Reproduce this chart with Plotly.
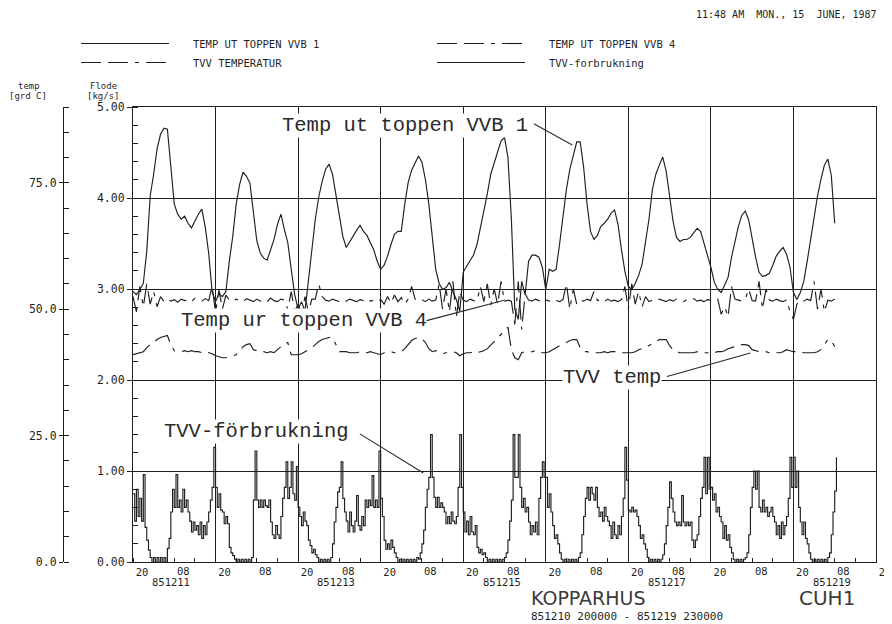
import plotly.graph_objects as go

# ---------------- data ----------------
# time axis: hours since 851210 20:00
day_labels = ["851211", "851213", "851215", "851217", "851219"]
day_label_hours = [12, 60, 108, 156, 204]
grid_hours = [0, 24, 48, 72, 96, 120, 144, 168, 192, 216]
grid_text = ["20"] * 10
mid_hours = [12, 36, 60, 84, 108, 132, 156, 180, 204]
mid_text = ["08"] * 9

# hourly temperatures [grd C]
vvb1_temp = [
    53.5, 52.9, 53.9, 55.1, 61.5, 72.4, 76.7, 81.7, 84.6, 85.8,
    85.6, 78.3, 70.8, 68.8, 67.8, 68.4, 67.0, 66.1, 67.6, 68.8,
    69.8, 66.3, 61.1, 53.5, 51.5, 53.1, 52.5, 53.5, 59.5, 64.4,
    70.8, 74.7, 77.1, 76.3, 74.9, 68.8, 63.5, 61.1, 60.1, 59.7,
    61.8, 63.8, 66.8, 68.8, 65.8, 63.2, 57.9, 52.9, 50.0, 51.5,
    49.6, 55.9, 61.8, 67.8, 72.2, 75.3, 77.7, 78.7, 76.7, 72.8,
    68.2, 64.4, 62.2, 63.4, 64.6, 65.6, 66.6, 65.4, 64.6, 63.2,
    61.7, 59.5, 57.9, 58.7, 60.5, 62.8, 64.8, 65.4, 65.4, 70.8,
    75.1, 77.5, 78.9, 80.3, 79.1, 75.7, 70.8, 63.8, 57.9, 55.1,
    53.9, 54.3, 55.3, 53.5, 51.9, 49.6, 57.3, 58.5, 59.7, 60.7,
    62.8, 66.2, 69.0, 72.8, 76.7, 78.9, 81.3, 83.3, 84.0, 80.1,
    67.8, 50.0, 48.0, 55.5, 52.9, 59.5, 60.7, 60.7, 60.3, 58.3,
    53.9, 57.9, 57.5, 57.9, 62.8, 68.2, 73.7, 77.7, 80.7, 83.1,
    83.1, 78.1, 70.8, 65.4, 63.8, 64.6, 66.4, 67.0, 67.8, 69.0,
    69.6, 66.8, 61.8, 57.5, 54.5, 53.9, 55.1, 56.7, 58.9, 63.2,
    67.8, 73.7, 76.7, 78.5, 80.1, 77.3, 72.4, 67.4, 64.2, 63.4,
    63.8, 63.8, 64.2, 65.0, 66.0, 65.4, 63.2, 60.7, 58.3, 55.3,
    53.9, 53.3, 54.7, 56.3, 60.3, 63.4, 66.4, 68.6, 69.4, 67.6,
    63.8, 60.3, 57.3, 56.5, 56.7, 57.1, 58.7, 60.5, 61.5, 62.2,
    60.9, 58.3, 53.3, 51.9, 53.3, 55.5, 59.5, 63.8, 68.2, 72.4,
    75.7, 78.5, 79.7, 76.5, 67.0,
]

vvb4_temp = [
    52.5, 49.5, 54.5, 50.5, 55.0, 51.0, 53.5, 50.5, 52.5,
    51.5, 52.0, 51.6, 51.9, 51.4, 52.0, 51.7, 51.9, 51.5, 52.2, 51.8, 51.6, 52.1, 51.7,
    54.5, 49.3, 53.8, 50.0, 52.8,
    51.8, 51.5, 52.0, 51.7, 51.4, 52.1, 51.8, 51.5, 52.0, 51.6, 51.9, 51.5, 52.2, 51.7, 51.5, 52.0, 51.8,
    50.0, 53.5, 49.5, 51.0, 48.8, 52.5, 49.5, 52.0,
    52.0, 55.0, 52.5,
    51.8, 51.6, 52.0, 51.7, 51.5, 51.9, 51.6, 52.0, 51.8, 51.5, 51.9, 51.7, 52.1, 51.6, 51.8, 51.5, 51.9,
    51.0, 52.5, 51.2, 52.8, 51.5, 52.3, 51.0, 52.0,
    54.5, 52.0,
    51.7, 51.9, 51.5, 52.0, 51.6, 51.8,
    55.0, 50.0, 54.0, 49.5, 55.5, 48.5, 53.5,
    51.8, 51.5, 52.0, 51.7, 51.6,
    54.5, 51.5, 55.0, 50.8, 54.0, 51.0, 55.5, 51.5,
    51.8, 51.6,
    47.0, 55.5, 46.0, 53.0,
    51.8, 51.6, 52.0, 51.7, 51.5, 51.9, 51.6, 52.0, 51.8, 51.5, 51.9,
    55.0, 50.0, 54.0, 51.0,
    51.8, 51.6, 52.0, 51.7,
    53.5,
    51.7, 51.9, 51.5, 52.0, 51.6, 51.8, 51.5, 51.9,
    54.5, 50.0, 55.0, 51.0, 53.5, 50.5, 52.5, 51.5,
    51.8, 51.6, 52.0, 51.7, 51.5, 51.9, 51.6, 52.0, 51.8, 51.5,
    51.9, 51.7, 52.1, 51.6, 51.8, 51.5, 51.9, 51.7, 51.6, 52.0,
    49.0, 50.5, 48.5,
    54.5, 52.0,
    51.8, 51.6, 52.0,
    54.0,
    51.7, 51.6,
    55.5, 50.0, 54.0,
    51.8, 51.6, 52.0, 51.7, 51.5, 51.9,
    49.5, 48.0, 51.0,
    51.8, 51.6, 52.0, 51.7,
    55.5, 50.0, 54.0,
    49.5,
    51.8, 51.6, 52.0,
]

tvv_temp = [
    41.0, 41.2, 41.4, 41.6, 42.4, 43.0, 43.4, 44.0, 44.4, 44.6,
    44.8, 43.0, 41.8, 41.6, 41.6, 41.8, 41.6, 41.8, 41.6, 41.6,
    41.4, 41.6, 41.4, 41.2, 40.8, 40.6, 40.4, 40.4, 40.6, 40.8,
    41.0, 41.8, 42.6, 43.0, 43.2, 42.0, 41.8, 41.6, 41.6, 41.4,
    41.6, 41.4, 42.0, 42.6, 43.2, 43.4, 41.0, 41.0, 41.0, 41.2,
    41.6, 42.0, 42.4, 43.0, 43.6, 44.0, 44.2, 44.4, 44.4, 43.0,
    41.6, 41.6, 41.6, 41.4, 41.4, 41.4, 41.6, 41.4, 41.4, 41.6,
    41.4, 41.2, 41.0, 41.4, 41.4, 41.6, 41.4, 41.4, 41.6, 42.2,
    43.0, 43.8, 44.2, 44.4, 44.2, 43.4, 42.2, 41.6, 41.8, 41.6,
    41.2, 41.4, 41.4, 41.6, 41.4, 40.8, 41.2, 41.4, 41.4, 41.6,
    41.4, 41.6, 41.8, 42.2, 42.8, 43.6, 44.4, 45.0, 46.0, 46.4,
    42.0, 40.4, 40.0, 41.4, 41.6, 41.4, 41.6, 41.8, 41.6, 41.4,
    41.4, 41.6, 42.0, 42.4, 42.8, 43.2, 43.4, 43.8, 44.0, 44.0,
    42.4, 41.6, 41.6, 41.4, 41.4, 41.4, 41.4, 41.6, 41.4, 41.6,
    41.6, 41.4, 41.4, 41.4, 41.4, 41.4, 41.6, 42.0, 42.2, 42.4,
    42.8, 43.2, 43.6, 44.0, 44.0, 44.0, 42.8, 42.0, 41.6, 41.4,
    41.4, 41.4, 41.4, 41.4, 41.6, 41.4, 41.4, 41.4, 41.2, 41.4,
    41.6, 41.6, 41.8, 42.2, 42.4, 42.6, 42.8, 43.0, 43.0, 42.8,
    42.0, 41.8, 41.6, 41.6, 41.6, 41.4, 41.4, 41.4, 41.4, 41.6,
    42.0, 41.8, 41.6, 41.6, 41.6, 41.4, 41.4, 41.4, 41.4, 41.6,
    42.0, 43.0, 44.0, 43.8, 42.6,
]

# half-hourly hot-water flow [kg/s], one list per day (starting 20:00)
flow_day0 = [0.75, 0.45, 0.8, 0.5, 0.7, 0.45, 0.96, 0.38, 0.24, 0.13,
             0.05, 0.0, 0.05, 0.0, 0.05, 0.0, 0.05, 0.0, 0.05, 0.0,
             0.15, 0.26, 0.55, 0.8, 0.6, 0.96, 0.6, 0.68, 0.55, 0.8,
             0.6, 0.68, 0.55, 0.45, 0.33, 0.44, 0.35, 0.4, 0.3, 0.44,
             0.26, 0.4, 0.3, 0.44, 0.55, 0.68, 0.82, 1.26]
flow_day1 = [0.82, 0.6, 0.75, 0.57, 0.55, 0.42, 0.5, 0.42, 0.16, 0.1,
             0.07, 0.03, 0.0, 0.03, 0.0, 0.03, 0.0, 0.03, 0.0, 0.03,
             0.0, 0.05, 0.68, 1.22, 0.68, 0.6, 0.68, 0.6, 0.68, 0.62,
             0.6, 0.68, 0.44, 0.3, 0.26, 0.4, 0.3, 0.26, 0.5, 0.7,
             0.82, 1.1, 0.7, 0.82, 1.1, 0.75, 0.68, 1.05]
flow_day2 = [0.6, 0.5, 0.4, 0.55, 0.45, 0.4, 0.24, 0.18, 0.1, 0.14,
             0.08, 0.05, 0.0, 0.03, 0.0, 0.03, 0.0, 0.03, 0.0, 0.05,
             0.2, 0.44, 0.6, 0.77, 0.82, 1.1, 0.7, 0.55, 0.45, 0.33,
             0.55, 0.4, 0.33, 0.45, 0.73, 0.4, 0.35, 0.5, 0.4, 0.68,
             0.6, 0.68, 0.62, 0.95, 0.6, 0.68, 0.6, 1.22]
flow_day3 = [0.7, 0.5, 0.24, 0.14, 0.2, 0.14, 0.24, 0.16, 0.1, 0.05,
             0.0, 0.03, 0.0, 0.03, 0.0, 0.03, 0.0, 0.03, 0.0, 0.03,
             0.0, 0.05, 0.03, 0.1, 0.2, 0.35, 0.6, 0.8, 0.93, 1.4,
             0.93, 0.71, 0.6, 0.71, 0.6, 0.65, 0.6, 0.55, 0.42, 0.5,
             0.42, 0.55, 0.45, 0.42, 0.5, 0.82, 1.4, 0.82]
flow_day4 = [0.55, 0.33, 0.45, 0.3, 0.5, 0.33, 0.3, 0.4, 0.16, 0.1,
             0.14, 0.08, 0.1, 0.05, 0.0, 0.03, 0.0, 0.03, 0.0, 0.03,
             0.0, 0.03, 0.0, 0.03, 0.05, 0.1, 0.24, 0.45, 0.68, 1.4,
             0.93, 0.93, 1.4, 0.82, 0.6, 0.7, 0.55, 0.6, 0.44, 0.3,
             0.4, 0.33, 0.44, 0.3, 0.7, 0.93, 1.1, 0.93]
flow_day5 = [0.93, 0.6, 0.75, 0.55, 0.4, 0.26, 0.3, 0.2, 0.1, 0.03,
             0.0, 0.03, 0.0, 0.03, 0.0, 0.03, 0.0, 0.03, 0.0, 0.05,
             0.1, 0.3, 0.5, 0.7, 0.82, 0.68, 0.82, 0.75, 0.68, 0.82,
             0.6, 0.5, 0.55, 0.45, 0.6, 0.5, 0.45, 0.4, 0.26, 0.44,
             0.3, 0.26, 0.4, 0.3, 0.5, 0.7, 1.26, 0.9]
flow_day6 = [0.57, 0.55, 0.6, 0.55, 0.57, 0.5, 0.4, 0.26, 0.3, 0.2,
             0.14, 0.05, 0.0, 0.03, 0.0, 0.03, 0.0, 0.03, 0.0, 0.03,
             0.08, 0.2, 0.4, 0.6, 0.88, 0.7, 0.55, 0.44, 0.4, 0.44,
             0.4, 0.73, 0.44, 0.4, 0.44, 0.4, 0.44, 0.24, 0.16, 0.24,
             0.3, 0.5, 0.7, 0.82, 1.15, 0.75, 1.15, 0.8]
flow_day7 = [0.82, 0.68, 0.75, 0.55, 0.6, 0.5, 0.44, 0.26, 0.4, 0.24,
             0.3, 0.16, 0.1, 0.03, 0.0, 0.03, 0.0, 0.03, 0.0, 0.03,
             0.05, 0.1, 0.3, 0.6, 0.82, 1.0, 0.8, 1.0, 0.6, 0.55,
             0.68, 0.55, 0.6, 0.5, 0.55, 0.6, 0.5, 0.44, 0.3, 0.4,
             0.26, 0.44, 0.3, 0.4, 0.5, 0.7, 1.15, 0.82]
flow_day8 = [1.15, 0.82, 1.0, 0.6, 0.44, 0.3, 0.44, 0.26, 0.2, 0.1,
             0.03, 0.0, 0.03, 0.0, 0.03, 0.0, 0.03, 0.0, 0.03, 0.0,
             0.05, 0.1, 0.3, 0.55, 0.78, 1.15]

# ---------------- build ----------------
hours = list(range(len(vvb1_temp)))
tvv_flow = (flow_day0 + flow_day1 + flow_day2 + flow_day3 + flow_day4
            + flow_day5 + flow_day6 + flow_day7 + flow_day8)
flow_hours = [i * 0.5 for i in range(len(tvv_flow))]

INK = "#1f1f1f"
MONO = "DejaVu Sans Mono"
TYPE = "Liberation Mono"
SANS = "DejaVu Sans"
DASH = "20px,7px,20px,7px,4px,7px"

# the page shows the figure with an 8 px body margin; positions below are
# given in page pixels and converted to paper fractions
OFF = 8
W, H = 892, 624
ML, MR, MT, MB = 0, 24, 99, 70
PW = W - ML - MR
PH = H - MT - MB


def px(xpage):
    return (xpage - OFF - ML) / PW


def py(ypage):
    return (H - MB - (ypage - OFF)) / PH


NB = "\u00a0\u00a0\u00a0"
fig = go.Figure()
fig.add_trace(go.Scatter(x=hours, y=vvb1_temp, yaxis="y2", mode="lines",
                         name=NB + "TEMP UT TOPPEN VVB 1",
                         line=dict(color=INK, width=1.15)))
fig.add_trace(go.Scatter(x=hours, y=vvb4_temp, yaxis="y2", mode="lines",
                         name=NB + "TEMP UT TOPPEN VVB 4",
                         line=dict(color=INK, width=1.15, dash=DASH)))
fig.add_trace(go.Scatter(x=hours, y=tvv_temp, yaxis="y2", mode="lines",
                         name=NB + "TVV TEMPERATUR",
                         line=dict(color=INK, width=1.15, dash=DASH)))
fig.add_trace(go.Scatter(x=flow_hours, y=tvv_flow, mode="lines",
                         name=NB + "TVV-forbrukning",
                         line=dict(color=INK, width=1.15, shape="hv")))

tickfont = dict(family=MONO, size=11.5, color=INK)
xfont = dict(family=MONO, size=10.5, color=INK)

fig.update_layout(
    template="none",
    width=W, height=H,
    margin=dict(l=ML, r=MR, t=MT, b=MB, pad=0),
    paper_bgcolor="white", plot_bgcolor="white",
    hovermode=False,
    showlegend=True,
    legend=dict(orientation="h", x=px(76), y=py(29), xanchor="left", yanchor="top",
                entrywidth=253, entrywidthmode="pixels", itemwidth=88,
                font=dict(family=MONO, size=10.5, color=INK),
                bgcolor="rgba(0,0,0,0)", traceorder="normal"),
    xaxis=dict(domain=[px(133), 1], range=[0, 216], tickmode="array",
               tickvals=grid_hours, ticktext=grid_text, ticks="",
               showgrid=True, gridcolor=INK, gridwidth=1,
               showline=True, mirror=True, linecolor=INK, linewidth=1.2,
               zeroline=False, tickfont=xfont, ticklabelshift=9,
               automargin=False,
               minor=dict(tickmode="linear", tick0=0, dtick=6, ticks="inside",
                          ticklen=4, tickcolor=INK, showgrid=False)),
    yaxis=dict(domain=[0, 1], range=[0, 5], tickmode="array",
               tickvals=[0, 1, 2, 3, 4, 5],
               ticktext=["0.00", "1.00", "2.00", "3.00", "4.00", "5.00"],
               ticks="outside", ticklen=5, tickcolor=INK,
               showgrid=True, gridcolor=INK, gridwidth=1,
               showline=True, mirror=True, linecolor=INK, linewidth=1.2,
               zeroline=False, tickfont=tickfont, automargin=False,
               minor=dict(tickmode="linear", tick0=0, dtick=0.2, ticks="inside",
                          ticklen=5, tickcolor=INK, showgrid=False)),
    yaxis2=dict(overlaying="y", anchor="free", position=px(63), side="left",
                range=[0, 90], tickmode="array", tickvals=[0, 25, 50, 75],
                ticktext=["0.0", "25.0", "50.0", "75.0"],
                ticks="outside", ticklen=4, tickcolor=INK,
                showgrid=False, showline=True, linecolor=INK, linewidth=1.2,
                zeroline=False, tickfont=tickfont, automargin=False,
                minor=dict(tickmode="linear", tick0=0, dtick=5, ticks="inside",
                           ticklen=5, tickcolor=INK, showgrid=False)),
)

ann = []
small = dict(family=MONO, size=10, color=INK)
ann.append(dict(xref="paper", yref="paper", x=px(879), y=py(14), xanchor="right",
                yanchor="middle", text="11:48 AM  MON., 15  JUNE, 1987",
                showarrow=False, font=small))
for txt, xx, yy in [("temp", 29, 86), ("[grd C]", 28, 96),
                    ("Flode", 103, 86), ("[kg/s]", 103, 96)]:
    ann.append(dict(xref="paper", yref="paper", x=px(xx), y=py(yy),
                    xanchor="center", yanchor="middle", text=txt,
                    showarrow=False, font=dict(family=MONO, size=9, color=INK)))
# 08 hour labels between the 20 labels
for lab, hh in zip(mid_text, mid_hours):
    ann.append(dict(xref="x", yref="paper", x=hh, y=py(570.5), xanchor="center",
                    yanchor="middle", xshift=9, text=lab, showarrow=False,
                    font=xfont, borderpad=0))
for lab, hh in zip(day_labels, day_label_hours):
    ann.append(dict(xref="x", yref="paper", x=hh, y=py(582), xanchor="center",
                    yanchor="middle", xshift=-3, text=lab, showarrow=False,
                    font=dict(family=MONO, size=10.5, color=INK), borderpad=0))
ann.append(dict(xref="paper", yref="paper", x=px(530), y=py(597.5), xanchor="left",
                yanchor="middle", text="KOPPARHUS", showarrow=False, borderpad=0,
                font=dict(family=SANS, size=19, color="#3a3a3a")))
ann.append(dict(xref="paper", yref="paper", x=px(798), y=py(598), xanchor="left",
                yanchor="middle", text="CUH1", showarrow=False, borderpad=0,
                font=dict(family=SANS, size=20, color="#3a3a3a")))
ann.append(dict(xref="paper", yref="paper", x=px(530), y=py(616.5), xanchor="left",
                yanchor="middle", text="851210 200000 - 851219 230000",
                showarrow=False, borderpad=0,
                font=dict(family=MONO, size=11, color=INK)))

# typed callouts inside the plot
typef = dict(family=TYPE, size=20.5, color="#2a2a2a")
for txt, h0, f0 in [("Temp ut toppen VVB 1", 43.05, 4.802),
                    ("Temp ur toppen VVB 4", 13.67, 2.659),
                    ("TVV temp", 124.8, 2.033),
                    ("TVV-förbrukning", 8.73, 1.429)]:
    ann.append(dict(xref="x", yref="y", x=h0, y=f0, xanchor="left",
                    yanchor="middle", text=txt, showarrow=False, font=typef,
                    bgcolor="white", borderpad=0))
# leader lines
for (h_tail, f_tail, h_head, f_head) in [(116.1, 4.824, 127.7, 4.582),
                                         (84.9, 2.648, 108.2, 2.879),
                                         (154.8, 2.033, 179.5, 2.297),
                                         (65.5, 1.418, 84.4, 0.978)]:
    ann.append(dict(xref="x", yref="y", axref="x", ayref="y", x=h_head, y=f_head,
                    ax=h_tail, ay=f_tail, text="", showarrow=True, arrowhead=0,
                    arrowwidth=1.1, arrowcolor="#2a2a2a", standoff=0, startstandoff=0))

fig.update_layout(annotations=ann)
fig.write_html("out.html")
